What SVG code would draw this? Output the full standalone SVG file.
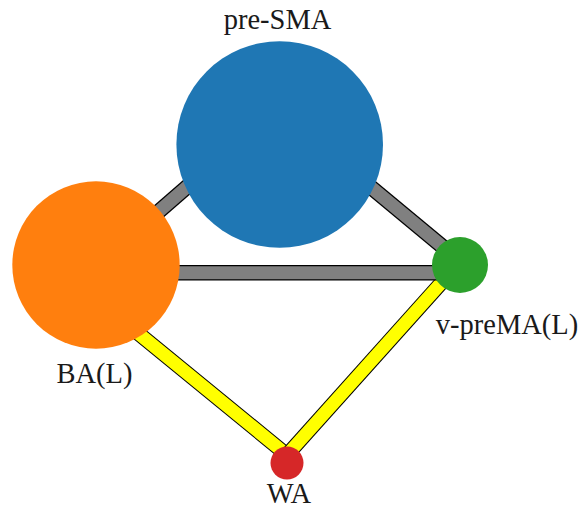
<svg xmlns="http://www.w3.org/2000/svg" width="585" height="510" viewBox="0 0 585 510">
<style>
.edge-out{stroke:#000;stroke-width:15.5;stroke-linecap:butt;fill:none}
.gray{stroke:#808080;stroke-width:13;stroke-linecap:butt;fill:none}
.yellow{stroke:#ffff00;stroke-width:13;stroke-linecap:butt;fill:none}
.yout{stroke:#000;stroke-width:15;stroke-linecap:butt;fill:none}
.label{font-family:"Liberation Serif","Times New Roman",serif;font-size:28.5px;fill:#1a1a1a;text-anchor:middle}
</style>
<rect width="585" height="510" fill="#fff"/>
<g id="connectors">
  <g id="edge-BA-WA"><line class="yout" x1="120" y1="318.4" x2="287" y2="455"/><line class="yellow" x1="120" y1="318.4" x2="287" y2="455"/></g>
  <g id="edge-WA-vpreMA"><line class="yout" x1="287" y1="455" x2="452" y2="270.9"/><line class="yellow" x1="287" y1="455" x2="452" y2="270.9"/></g>
  <g id="edge-BA-preSMA"><line class="edge-out" x1="120" y1="245.2" x2="240" y2="140.8"/><line class="gray" x1="120" y1="245.2" x2="240" y2="140.8"/></g>
  <g id="edge-preSMA-vpreMA"><line class="edge-out" x1="330" y1="153.2" x2="455" y2="257"/><line class="gray" x1="330" y1="153.2" x2="455" y2="257"/></g>
  <g id="edge-BA-vpreMA"><line class="edge-out" x1="150" y1="272.7" x2="455" y2="272.7"/><line class="gray" x1="150" y1="272.7" x2="455" y2="272.7"/></g>
</g>
<g id="node-preSMA"><circle cx="279.7" cy="144.5" r="103.3" fill="#1f77b4"/><text class="label" x="277.5" y="29">pre-SMA</text></g>
<g id="node-BA"><circle cx="96" cy="265" r="83.7" fill="#ff7f0e"/><text class="label" x="94.5" y="383">BA(L)</text></g>
<g id="node-vpreMA"><circle cx="460" cy="265" r="28" fill="#2ca02c"/><text class="label" x="507" y="334">v-preMA(L)</text></g>
<g id="node-WA"><circle cx="287" cy="463" r="16.5" fill="#d62728"/><text class="label" x="289" y="503">WA</text></g>
</svg>
